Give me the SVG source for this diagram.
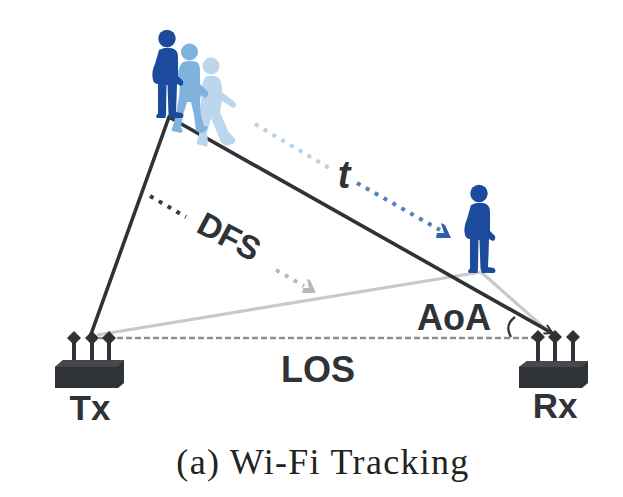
<svg xmlns="http://www.w3.org/2000/svg" xmlns:xlink="http://www.w3.org/1999/xlink" width="623" height="497" viewBox="0 0 623 497">
<style>
.lbl{font-family:"Liberation Sans",Arial,sans-serif;font-weight:700;fill:#2f3237}
.cap{font-family:"Liberation Serif","Times New Roman",serif;fill:#222}
.dot{fill:none;stroke-width:4;stroke-dasharray:4 6.2}
.dev{fill:#2f3237}
.ant{stroke:#2f3237;stroke-width:4;fill:none}
</style>
<defs>
<symbol id="stand" overflow="visible">
<circle cx="167" cy="38.500" r="8.700"/>
<path d="M159 50Q167 46 174 49Q178 51 178 57L178 76L183 81Q184 85 181 86L177 84L176.500 100L176 112L182 113Q185 116 182 118L170 118L168.500 114L167.500 85L166.500 85L166 114L165.500 118L157 118Q155 116 158 113.500L158 84Q154 84 153 80Q151 72 155 64Z"/>
</symbol>
<g id="ante">
<path class="ant" d="M0 0V26"/>
<path class="dev" d="M0-7L7 0L0 7L-7 0Z"/>
</g>
</defs>
<g id="connectors">
<path d="M97 335L481 272" stroke="#c9c9c9" stroke-width="3.200" fill="none"/>
<path d="M481 272L550 333" stroke="#c9c9c9" stroke-width="3.200" fill="none"/>
<path d="M90 338H538" stroke="#8e8e8e" stroke-width="2.500" stroke-dasharray="6 3" fill="none"/>
<path d="M90 337L169 117L552 333" stroke="#2f3237" stroke-width="3.600" fill="none" stroke-linejoin="miter"/>
<path d="M547 325L552.500 333L543.500 333.500" stroke="#2f3237" stroke-width="2" fill="none"/>
<path d="M515 317Q504 325 511 337" stroke="#2f3237" stroke-width="2.200" fill="none"/>
<path class="dot" stroke="#b5d2ec" d="M255 124L329 168"/>
<path class="dot" stroke="#4f81bd" d="M357 183L440 230"/>
<path d="M441 223L445 225L451 238L436 238L437 233L444 233Z" fill="#2f5fa8"/>
<path class="dot" stroke="#3a3d42" d="M150 196L186 217"/>
<path class="dot" stroke="#b8b8b8" d="M276 270L304 286"/>
<path d="M307 279L310 280L316 293L302 293L303 288L309 288Z" fill="#b8b8b8"/>
</g>
<g id="person-light" fill="#bcd6ee">
<circle cx="211" cy="66" r="8.500"/>
<path d="M205 77Q213 74 219 78Q222 82 222 92L235 102Q238 106 233 108L222 101L220 112L228 131L235 139Q236 142 233 144L225 146L221 142L211 118L207 133L208 142L207 147L197 144L197 141L199 135L201 103L202 85Z"/>
</g>
<g id="person-mid" fill="#7fb2dc">
<circle cx="189.500" cy="52" r="8.500"/>
<path d="M183 62Q190 60 197 62Q200 64 200 72L200 84L208 92Q209 96 205 98L201 95L200 100L201 115L204 126L208 127Q206 132 202 133L196 131L194 115L191 102L187 102L183 115L181 127L183 131L181 133L172 131Q171 129 173 126L176 114L179 97L180 84L178 74Q179 65 183 62Z"/>
</g>
<g id="person-start" fill="#1c4a9c"><use xlink:href="#stand" href="#stand"/></g>
<g id="person-end" fill="#1c4a9c"><use xlink:href="#stand" href="#stand" x="312" y="155"/></g>
<g id="tx">
<use href="#ante" xlink:href="#ante" x="74" y="338"/><use href="#ante" xlink:href="#ante" x="92" y="338"/><use href="#ante" xlink:href="#ante" x="109" y="338"/>
<path class="dev" d="M55 367L63 360H124V383L118 388H55Z"/>
<path d="M55 367L63 360H124L118 367Z" fill="#45484d"/>
<text class="lbl" x="90" y="420" font-size="35" text-anchor="middle">Tx</text>
</g>
<g id="rx">
<use href="#ante" xlink:href="#ante" x="538" y="337"/><use href="#ante" xlink:href="#ante" x="555" y="337"/><use href="#ante" xlink:href="#ante" x="573" y="337"/>
<path class="dev" d="M519 367L527 361H588V383L582 388H519Z"/>
<path d="M519 367L527 361H588L582 367Z" fill="#45484d"/>
<text class="lbl" x="555" y="418" font-size="35" text-anchor="middle">Rx</text>
</g>
<text class="lbl" x="318" y="382" font-size="36" text-anchor="middle">LOS</text>
<text class="lbl" x="454" y="330" font-size="36" text-anchor="middle">AoA</text>
<text class="lbl" x="229" y="248" font-size="33" text-anchor="middle" transform="rotate(28 229 237)">DFS</text>
<text class="lbl" x="344" y="188" font-size="38" font-style="italic" text-anchor="middle">t</text>
<text class="cap" x="323" y="474" font-size="36" letter-spacing="1.300" text-anchor="middle">(a) Wi-Fi Tracking</text>
</svg>
